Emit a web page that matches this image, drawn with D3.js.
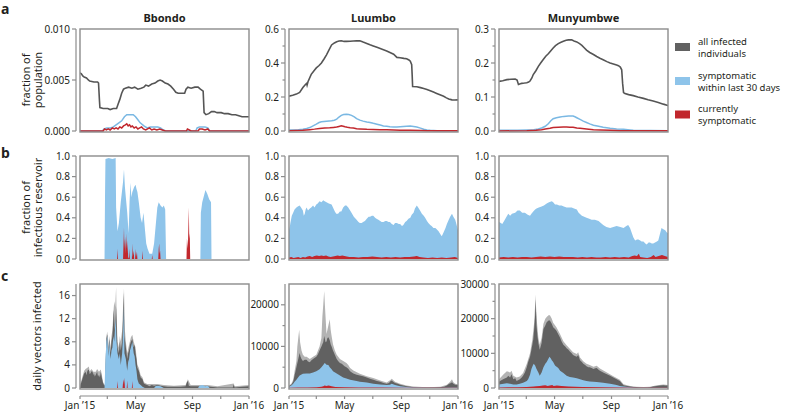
<!DOCTYPE html>
<html><head><meta charset="utf-8">
<script src="https://cdn.jsdelivr.net/npm/d3@7"></script>
<style>body{margin:0;background:#fff} svg text{font-family:"Noto Sans",sans-serif;fill:#231f20}</style>
</head><body><svg id="chart" width="785" height="412"></svg>
<script>
// ---------- DATA ([day of 2015, value]) ----------
const sites = ["Bbondo", "Luumbo", "Munyumbwe"];
const legendLabels = [["all infected","individuals"],["symptomatic","within last 30 days"],["currently","symptomatic"]];
const rowTitles = [["fraction of","population"],["fraction of","infectious reservoir"],["daily vectors infected"]];
const panelLetters = ["a","b","c"];
const xTickMonths = [0,2,4,6,8,10,12];
const xTickLabels = ["Jan \u201915","","May","","Sep","","Jan \u201916"];

// Row a: fraction of population
const bbondoInfected = [[0,0.0057],[3,0.0056],[6,0.0054],[9,0.0053],[14,0.0052],[18,0.005],[21,0.0049],[30,0.0048],[38,0.0048],[40,0.0047],[42,0.003],[43,0.0023],[50,0.0022],[60,0.0022],[65,0.0021],[72,0.0022],[79,0.0022],[82,0.0026],[86,0.0031],[90,0.0037],[94,0.0041],[98,0.0042],[105,0.0043],[112,0.0042],[118,0.0043],[125,0.0041],[132,0.0042],[138,0.0043],[142,0.0045],[148,0.0044],[155,0.0046],[162,0.0047],[168,0.0049],[173,0.005],[178,0.0049],[184,0.0047],[190,0.0046],[196,0.0044],[202,0.0041],[207,0.0038],[212,0.0037],[220,0.0037],[226,0.0037],[229,0.0041],[233,0.0043],[240,0.0042],[248,0.0043],[255,0.0043],[260,0.0041],[266,0.0039],[268,0.0018],[272,0.0016],[278,0.0017],[284,0.0019],[290,0.0019],[296,0.0018],[305,0.0018],[312,0.0017],[320,0.0017],[328,0.0016],[336,0.0016],[343,0.0015],[350,0.0014],[358,0.0014],[365,0.0014]];
const bbondoSymp30 = [[0,0],[48,0],[52,0.0002],[58,0.0003],[66,0.0003],[72,0.0004],[78,0.0006],[84,0.0008],[90,0.001],[96,0.0014],[101,0.0016],[108,0.0016],[115,0.0016],[120,0.0014],[125,0.0011],[130,0.0008],[138,0.0005],[145,0.0003],[152,0.0004],[160,0.0004],[168,0.0004],[174,0.0003],[180,0.0001],[186,0],[250,0],[253,0.0003],[258,0.0004],[270,0.0004],[276,0.0003],[280,0],[365,0]];
const bbondoCurrent = [[0,0],[50,0],[53,0.0002],[57,0.0001],[61,0.0002],[65,0.0001],[70,0.0003],[74,0.0002],[78,0.0003],[82,0.0002],[86,0.0004],[90,0.0003],[94,0.0005],[98,0.0006],[101,0.0007],[104,0.0005],[107,0.0006],[110,0.0004],[113,0.0005],[117,0.0003],[121,0.0004],[125,0.0002],[129,0.0003],[133,0.0004],[137,0.0002],[142,0.0001],[146,0.0002],[150,0.0003],[155,0.0001],[160,0.0002],[166,0.0001],[172,0.0002],[178,0.0001],[184,0],[230,0],[232,0.0002],[236,0.0001],[240,0],[255,0],[258,0.0002],[264,0.0002],[270,0.0001],[276,0.0002],[280,0],[365,0]];

const luumboInfected = [[0,0.205],[8,0.21],[16,0.217],[23,0.227],[30,0.256],[36,0.275],[38,0.28],[39,0.27],[41,0.29],[48,0.333],[54,0.355],[59,0.371],[65,0.385],[70,0.4],[76,0.425],[81,0.448],[87,0.48],[92,0.506],[98,0.518],[103,0.525],[108,0.529],[113,0.531],[119,0.527],[124,0.527],[132,0.528],[139,0.529],[146,0.53],[153,0.531],[160,0.523],[168,0.515],[175,0.507],[182,0.5],[190,0.492],[197,0.485],[204,0.478],[211,0.471],[218,0.462],[226,0.452],[233,0.433],[240,0.431],[248,0.427],[254,0.425],[259,0.418],[262,0.41],[265,0.39],[266,0.33],[267,0.262],[276,0.26],[284,0.255],[291,0.25],[298,0.244],[305,0.237],[312,0.229],[319,0.221],[326,0.213],[334,0.204],[340,0.195],[345,0.188],[352,0.183],[358,0.182],[365,0.183]];
const luumboSymp30 = [[0,0.006],[20,0.008],[30,0.01],[38,0.015],[45,0.02],[52,0.03],[59,0.04],[65,0.05],[70,0.054],[81,0.058],[92,0.06],[98,0.063],[103,0.07],[108,0.082],[113,0.092],[118,0.097],[124,0.098],[129,0.097],[135,0.092],[141,0.083],[146,0.073],[153,0.064],[160,0.058],[168,0.053],[175,0.05],[182,0.045],[190,0.04],[197,0.035],[204,0.03],[211,0.028],[218,0.025],[226,0.024],[233,0.023],[240,0.025],[247,0.027],[254,0.028],[262,0.029],[269,0.027],[276,0.023],[284,0.017],[291,0.01],[298,0.006],[305,0.004],[320,0.002],[365,0.002]];
const luumboCurrent = [[0,0.002],[30,0.004],[45,0.008],[55,0.011],[66,0.015],[77,0.017],[88,0.019],[96,0.021],[103,0.023],[108,0.027],[113,0.031],[117,0.028],[121,0.025],[126,0.022],[132,0.019],[139,0.017],[146,0.013],[153,0.012],[168,0.01],[182,0.009],[197,0.008],[211,0.007],[226,0.006],[240,0.005],[262,0.004],[284,0.003],[298,0.002],[365,0.002]];

const munyumbweInfected = [[0,0.146],[8,0.148],[17,0.151],[26,0.152],[35,0.153],[39,0.15],[42,0.137],[46,0.139],[49,0.14],[55,0.141],[60,0.142],[64,0.144],[67,0.147],[71,0.156],[74,0.166],[80,0.178],[85,0.19],[90,0.2],[96,0.211],[101,0.22],[107,0.228],[112,0.236],[117,0.244],[122,0.251],[128,0.257],[134,0.261],[139,0.264],[145,0.267],[150,0.268],[157,0.268],[162,0.265],[168,0.262],[174,0.257],[179,0.252],[184,0.245],[189,0.238],[196,0.231],[204,0.225],[211,0.219],[218,0.214],[226,0.209],[233,0.204],[240,0.2],[247,0.197],[254,0.194],[258,0.192],[262,0.188],[265,0.18],[267,0.14],[269,0.113],[272,0.11],[280,0.107],[290,0.104],[300,0.1],[312,0.096],[322,0.092],[333,0.088],[344,0.084],[355,0.079],[365,0.075]];
const munyumbweSymp30 = [[0,0.002],[40,0.002],[60,0.003],[75,0.004],[85,0.006],[92,0.009],[100,0.014],[107,0.022],[112,0.03],[117,0.036],[124,0.039],[132,0.041],[140,0.043],[150,0.044],[160,0.044],[164,0.042],[168,0.039],[175,0.034],[182,0.029],[189,0.025],[196,0.021],[204,0.017],[215,0.014],[225,0.011],[240,0.008],[254,0.006],[269,0.005],[283,0.003],[290,0.002],[365,0.001]];
const munyumbweCurrent = [[0,0],[60,0.001],[80,0.002],[92,0.004],[100,0.006],[110,0.008],[117,0.01],[128,0.011],[139,0.012],[146,0.012],[153,0.011],[160,0.011],[168,0.009],[175,0.008],[189,0.006],[204,0.004],[218,0.003],[240,0.002],[262,0.001],[290,0.0005],[365,0.0005]];

// Row b: fraction of infectious reservoir
const bbondoReservoirSymp30 = [[0,0],[53,0],[54,0.6],[55,0.97],[62,0.98],[70,0.97],[77,0.98],[78,0.5],[81,0.27],[84,0.35],[88,0.55],[93,0.75],[95,0.87],[97,0.7],[99,0.6],[102,0.45],[105,0.25],[107,0.55],[109,0.74],[111,0.6],[113,0.65],[117,0.7],[120,0.72],[122,0.68],[124,0.65],[127,0.55],[131,0.4],[134,0.35],[137,0.45],[140,0.3],[143,0.15],[146,0.1],[150,0.05],[156,0.05],[160,0.15],[163,0.3],[167,0.5],[170,0.55],[174,0.52],[178,0.5],[181,0.52],[184,0.48],[186,0],[260,0],[261,0.45],[264,0.55],[268,0.62],[271,0.67],[275,0.63],[279,0.58],[283,0.55],[284,0],[365,0]];
const bbondoReservoirCurrent = [[0,0],[80,0],[81,0.1],[82,0],[93,0],[94,0.15],[95,0.3],[96,0.1],[97,0.2],[98,0.05],[99,0.22],[100,0.1],[101,0.25],[102,0.05],[103,0.18],[104,0.02],[106,0],[107,0.1],[108,0],[112,0],[113,0.15],[114,0.02],[116,0.08],[117,0],[119,0],[120,0.1],[121,0.02],[123,0.07],[124,0],[134,0],[135,0.08],[136,0],[155,0],[156,0.04],[157,0],[169,0],[170,0.1],[171,0.15],[172,0.05],[173,0.08],[174,0],[230,0],[231,0.2],[233,0.1],[235,0.5],[236,0.2],[237,0.25],[238,0],[365,0]];
const luumboReservoirSymp30 = [[0,0.28],[2,0.32],[3,0.35],[6,0.42],[9,0.45],[12,0.48],[16,0.5],[19,0.51],[23,0.52],[26,0.5],[30,0.47],[32,0.42],[34,0.44],[36,0.48],[38,0.5],[41,0.47],[45,0.49],[48,0.5],[52,0.52],[55,0.5],[59,0.53],[62,0.54],[66,0.56],[70,0.55],[74,0.57],[77,0.56],[81,0.55],[86,0.54],[92,0.53],[95,0.5],[99,0.46],[102,0.44],[106,0.44],[110,0.46],[113,0.46],[117,0.5],[121,0.52],[124,0.52],[128,0.5],[132,0.47],[135,0.45],[140,0.41],[146,0.38],[150,0.36],[153,0.35],[157,0.35],[160,0.36],[164,0.37],[168,0.39],[172,0.41],[175,0.41],[179,0.42],[182,0.42],[186,0.4],[189,0.39],[193,0.38],[197,0.37],[200,0.36],[204,0.36],[208,0.37],[211,0.37],[215,0.36],[218,0.36],[222,0.34],[226,0.33],[229,0.35],[233,0.35],[237,0.34],[240,0.34],[244,0.32],[247,0.33],[251,0.36],[254,0.37],[258,0.39],[262,0.4],[265,0.43],[269,0.45],[272,0.49],[276,0.52],[279,0.5],[283,0.47],[287,0.44],[291,0.42],[294,0.4],[298,0.37],[301,0.35],[305,0.33],[308,0.32],[312,0.3],[316,0.3],[319,0.29],[323,0.27],[327,0.24],[330,0.22],[334,0.26],[338,0.3],[341,0.34],[345,0.38],[348,0.41],[352,0.44],[355,0.41],[359,0.38],[362,0.33],[365,0.28]];
const luumboReservoirCurrent = [[0,0.015],[5,0.02],[10,0.01],[15,0.015],[20,0.02],[25,0.01],[30,0.02],[35,0.015],[40,0.025],[45,0.03],[50,0.02],[55,0.03],[60,0.035],[65,0.03],[70,0.035],[75,0.03],[80,0.035],[85,0.025],[90,0.02],[95,0.025],[100,0.03],[105,0.035],[110,0.03],[115,0.035],[120,0.03],[125,0.025],[130,0.02],[140,0.02],[150,0.015],[160,0.02],[170,0.02],[180,0.025],[190,0.02],[200,0.015],[210,0.02],[220,0.015],[230,0.02],[240,0.015],[250,0.02],[260,0.02],[270,0.025],[276,0.03],[282,0.02],[290,0.015],[300,0.01],[310,0.015],[320,0.01],[330,0.015],[340,0.01],[350,0.015],[358,0.02],[365,0.01]];
const munyumbweReservoirSymp30 = [[0,0.36],[4,0.35],[7,0.34],[11,0.37],[15,0.4],[20,0.44],[24,0.42],[28,0.44],[35,0.45],[40,0.47],[45,0.47],[50,0.45],[56,0.45],[62,0.43],[67,0.42],[70,0.44],[74,0.46],[78,0.48],[81,0.49],[86,0.5],[92,0.51],[97,0.52],[103,0.54],[108,0.55],[114,0.56],[117,0.55],[121,0.53],[125,0.53],[130,0.52],[135,0.52],[140,0.51],[146,0.5],[151,0.5],[157,0.5],[162,0.49],[168,0.48],[172,0.45],[179,0.42],[184,0.41],[189,0.4],[195,0.39],[200,0.38],[207,0.38],[215,0.37],[220,0.35],[225,0.33],[232,0.31],[240,0.3],[247,0.31],[254,0.32],[262,0.31],[269,0.3],[275,0.32],[279,0.33],[283,0.3],[287,0.25],[290,0.21],[294,0.18],[298,0.19],[301,0.19],[305,0.18],[308,0.17],[312,0.17],[316,0.15],[319,0.14],[323,0.16],[326,0.16],[330,0.15],[333,0.15],[337,0.16],[341,0.17],[344,0.18],[348,0.25],[351,0.3],[355,0.29],[359,0.28],[362,0.26],[365,0.25]];
const munyumbweReservoirCurrent = [[0,0.015],[10,0.02],[20,0.015],[30,0.02],[40,0.015],[50,0.02],[60,0.02],[70,0.015],[80,0.02],[90,0.025],[100,0.02],[110,0.025],[120,0.02],[130,0.025],[140,0.02],[150,0.02],[160,0.02],[170,0.015],[180,0.02],[190,0.015],[200,0.02],[210,0.015],[220,0.015],[230,0.02],[240,0.015],[250,0.02],[260,0.015],[270,0.02],[280,0.015],[288,0.03],[293,0.035],[298,0.03],[302,0.05],[305,0.02],[312,0.015],[320,0.01],[328,0.02],[334,0.04],[338,0.02],[345,0.03],[352,0.04],[358,0.03],[365,0.02]];

// Row c: daily vectors infected (upper band, all infected, symptomatic 30d, current)
const bbondoVectorsUpper = [[0,0],[1,0.7],[5,1.9],[9,3.0],[12,3.3],[16,3.5],[19,3.7],[21,2.9],[25,3.3],[29,2.8],[34,2.8],[37,3.3],[41,2.8],[45,3.2],[50,1.0],[54,0.5],[57,9.0],[59,9.8],[61,7],[63,9],[66,7],[68,9],[70,10],[72,13],[74,15],[76,14],[78,17.5],[79,13],[81,8],[84,7],[86,9],[88,8],[91,10],[93,14],[95,17.2],[97,10],[99,8],[102,6],[106,7.5],[110,8.8],[113,9.2],[116,8],[120,7],[124,4],[127,3.5],[131,2.2],[135,1.8],[138,1.0],[145,0.7],[155,0.7],[167,0.7],[181,0.5],[203,0.4],[228,0.5],[233,1.5],[239,0.5],[275,0.5],[297,0.3],[332,0.8],[334,0.3],[365,0.5]];
const bbondoVectorsAll = [[0,0],[1,0.5],[5,1.5],[9,2.5],[12,2.8],[14,2.2],[16,3.0],[19,3.2],[21,2.4],[23,2.6],[25,2.9],[27,2.8],[29,2.2],[30,2.6],[32,2.0],[34,2.3],[37,2.8],[39,2.0],[41,2.3],[43,1.8],[45,2.8],[47,1.8],[50,0.8],[52,0.5],[54,0.4],[57,8.5],[59,9.3],[61,6],[63,8.5],[66,6],[68,8],[70,9],[72,12],[73,13.5],[75,10],[77,12],[78,14],[80,9],[81,7],[84,6],[86,8],[88,6.5],[91,8],[93,12],[94,16.5],[96,9],[99,7],[102,5],[104,6],[106,6.5],[108,7.5],[110,8],[113,8.5],[116,7],[118,7.5],[120,6],[122,5],[124,3.5],[127,3],[131,1.8],[135,1.5],[138,0.8],[142,0.6],[145,0.5],[150,0.3],[155,0.5],[160,0.4],[167,0.5],[174,0.4],[181,0.3],[189,0.2],[203,0.2],[217,0.2],[228,0.3],[231,1.0],[233,1.2],[235,0.4],[239,0.3],[261,0.3],[275,0.3],[282,0.2],[297,0.1],[330,0.1],[332,0.6],[334,0.1],[350,0.2],[365,0.3]];
const bbondoVectorsSymp30 = [[0,0],[53,0],[55,5],[57,8],[59,9],[61,5.5],[63,8],[66,5],[68,6.5],[70,7],[72,9],[74,8],[76,11],[77,12],[79,8],[81,6],[84,5],[86,6],[88,4],[91,6],[93,9],[95,14],[96,6],[99,5],[102,3],[104,4.5],[106,5],[108,6.5],[110,7],[113,8],[116,6],[118,5.5],[120,4],[122,3],[124,1.5],[127,0.8],[131,0.5],[135,0.2],[140,0],[160,0],[163,0.3],[167,0.4],[174,0.3],[181,0],[255,0],[258,0.4],[265,0.5],[270,0.3],[276,0.4],[280,0],[365,0]];
const bbondoVectorsCurrent = [[0,0],[80,0],[81,1.2],[82,0],[92,0],[93,1.0],[94,1.5],[95,0.6],[96,1.8],[97,0],[101,0],[102,1.3],[103,0],[112,0],[113,1.2],[114,0],[365,0]];

const luumboVectorsUpper = [[0,600],[5,1000],[9,2000],[12,4000],[16,6500],[18,10000],[20,12000],[22,14000],[24,11000],[27,9000],[30,8000],[34,7500],[38,7500],[45,7000],[52,7500],[59,8000],[66,10000],[70,12000],[72,17000],[74,20000],[76,23300],[78,19000],[79,17000],[81,13000],[83,14000],[85,15000],[88,16500],[90,14000],[92,12500],[95,10500],[99,9000],[103,8000],[110,7000],[117,6500],[124,6000],[128,5500],[132,4800],[139,4200],[153,3400],[168,2800],[182,2400],[197,1800],[211,1300],[219,1900],[222,2200],[229,1500],[240,1000],[254,600],[269,350],[298,200],[327,300],[341,800],[348,1500],[352,2100],[355,1400],[359,1000],[365,900]];
const luumboVectorsAll = [[0,500],[5,800],[9,1500],[12,3000],[16,5000],[20,7000],[23,8400],[25,7500],[27,7000],[30,6500],[34,6800],[38,6800],[41,6400],[45,6200],[48,6600],[52,7000],[55,7200],[59,7500],[62,8000],[66,9000],[70,10000],[72,10500],[74,11000],[76,12500],[77,12000],[79,11000],[81,11200],[83,12000],[85,12200],[88,11500],[90,10500],[92,10000],[95,9000],[99,8000],[103,7000],[106,6500],[110,6000],[114,5800],[117,5500],[120,5200],[124,5000],[128,4600],[132,4000],[135,3800],[139,3500],[146,3200],[153,3000],[160,2800],[168,2500],[175,2200],[182,2000],[190,1700],[197,1500],[204,1200],[211,1000],[216,1200],[219,1600],[222,1800],[225,1500],[229,1200],[235,1000],[240,800],[247,600],[254,400],[262,300],[269,200],[280,150],[298,100],[315,100],[327,200],[335,300],[341,600],[346,1000],[350,1200],[352,1400],[355,1000],[359,800],[365,700]];
const luumboVectorsSymp30 = [[0,300],[5,600],[9,1000],[12,1500],[16,2000],[20,2600],[23,3000],[30,3400],[38,3500],[45,3500],[52,3700],[59,4000],[66,4500],[70,5000],[74,5500],[77,6000],[79,5800],[81,5600],[85,5500],[88,5000],[92,4500],[95,4000],[103,3500],[110,3000],[117,2500],[124,2300],[132,2000],[146,1700],[153,1500],[168,1300],[182,1000],[197,850],[211,700],[218,800],[222,1000],[229,700],[240,400],[254,250],[269,150],[298,80],[327,80],[350,150],[365,100]];
const luumboVectorsCurrent = [[0,50],[20,100],[40,150],[60,200],[70,300],[74,450],[77,600],[81,500],[85,600],[88,550],[92,400],[100,250],[120,200],[150,150],[200,100],[250,80],[300,50],[365,50]];

const munyumbweVectorsUpper = [[0,2500],[10,4000],[17,4800],[24,4500],[27,5000],[31,3500],[38,3000],[45,3300],[52,4300],[60,7000],[67,10000],[72,14000],[76,19000],[78,24000],[79,27000],[80,23500],[82,19000],[85,14500],[88,12500],[92,14500],[96,18500],[100,20000],[103,20500],[107,21000],[110,21000],[114,20000],[117,18800],[124,17500],[132,15500],[139,13500],[146,12300],[153,11300],[160,10300],[168,9800],[171,10300],[175,8800],[182,7700],[189,7000],[196,6600],[204,6100],[211,6400],[218,5600],[233,4500],[247,3400],[261,2400],[269,1100],[283,600],[297,350],[312,300],[326,350],[341,800],[355,1000],[365,900]];
const munyumbweVectorsAll = [[0,1800],[5,2200],[10,2600],[17,3000],[20,3500],[24,3000],[27,4000],[31,2500],[35,2800],[38,2000],[42,2300],[45,2500],[49,3000],[52,3500],[56,4500],[60,6000],[63,7500],[67,9000],[70,11000],[72,12500],[74,14000],[76,17000],[78,21000],[79,25500],[80,22000],[81,18000],[83,15000],[85,13000],[88,11000],[90,12000],[92,13000],[94,15000],[96,17000],[100,18000],[103,19000],[107,19500],[110,19500],[112,19000],[114,18500],[117,17500],[121,17000],[124,16500],[128,15500],[132,14500],[135,13500],[139,12500],[143,12000],[146,11500],[150,11000],[153,10500],[157,10000],[160,9500],[164,9200],[168,9000],[171,9500],[173,8800],[175,8000],[179,7500],[182,7000],[186,6600],[189,6300],[193,6000],[196,6000],[200,5800],[204,5500],[208,5700],[211,5800],[215,5300],[218,5000],[225,4500],[233,4000],[240,3500],[247,3000],[254,2500],[261,2000],[265,1400],[269,800],[276,600],[283,400],[290,300],[297,200],[305,180],[312,150],[320,180],[326,200],[333,400],[341,600],[348,700],[355,800],[360,750],[365,700]];
const munyumbweVectorsSymp30 = [[0,1000],[10,1200],[17,1400],[24,1200],[31,1000],[38,1000],[45,1200],[52,1500],[60,2000],[63,2500],[67,3800],[70,5500],[73,6500],[75,7000],[78,6500],[81,5500],[85,4500],[88,3500],[92,4500],[96,6000],[100,7000],[103,7500],[107,8500],[109,9000],[112,8500],[114,8000],[117,7500],[121,6500],[128,5800],[132,5000],[139,4300],[146,3500],[153,3200],[160,3000],[168,2800],[175,2500],[182,2200],[189,2000],[196,1900],[204,1800],[211,1700],[225,1500],[240,1200],[254,900],[261,600],[269,400],[283,200],[297,100],[312,80],[365,50]];
const munyumbweVectorsCurrent = [[0,150],[20,200],[40,250],[60,300],[75,400],[80,500],[88,600],[95,700],[100,800],[105,600],[110,700],[115,900],[118,600],[125,700],[135,600],[150,400],[180,300],[220,200],[260,150],[300,100],[365,100]];

// Axis ticks
const yMaxRowA = [0.01, 0.6, 0.3];
const yMajorRowA = [[0,0.005,0.01],[0,0.2,0.4,0.6],[0,0.1,0.2,0.3]];
const yMinorRowA = [[],[0.1,0.3,0.5],[0.05,0.15,0.25]];
const yFmtRowA = [".3f", ".1f", ".1f"];
const yMaxRowB = [1, 1, 1];
const yMajorRowB = [[0,0.2,0.4,0.6,0.8,1],[0,0.2,0.4,0.6,0.8,1],[0,0.2,0.4,0.6,0.8,1]];
const yMaxRowC = [18, 25000, 30000];
const yMajorRowC = [[0,4,8,12,16],[0,10000,20000],[0,10000,20000,30000]];
const yMinorRowC = [[],[5000,15000],[5000,15000,25000]];

// ---------- LAYOUT / STYLE ----------
const colX = [80, 289, 499], colW = 169;
const rowY = [[29,131],[156,259],[284,388]];   // [top, bottom]
const C = {gray:"#616161", grayLine:"#555555", lightGray:"#b3b3b3", blue:"#8ec4ea", blueLine:"#7ab8e3", red:"#c1272d", frame:"#8c8c8c"};

const svg = d3.select("#chart");
const t0 = new Date(2015,0,1), t1 = new Date(2016,0,1);
const dt = d => new Date(2015,0,1+d);

const rowA = [[bbondoInfected,bbondoSymp30,bbondoCurrent],[luumboInfected,luumboSymp30,luumboCurrent],[munyumbweInfected,munyumbweSymp30,munyumbweCurrent]];
const rowB = [[bbondoReservoirSymp30,bbondoReservoirCurrent],[luumboReservoirSymp30,luumboReservoirCurrent],[munyumbweReservoirSymp30,munyumbweReservoirCurrent]];
const rowC = [[bbondoVectorsUpper,bbondoVectorsAll,bbondoVectorsSymp30,bbondoVectorsCurrent],[luumboVectorsUpper,luumboVectorsAll,luumboVectorsSymp30,luumboVectorsCurrent],[munyumbweVectorsUpper,munyumbweVectorsAll,munyumbweVectorsSymp30,munyumbweVectorsCurrent]];

const defs = svg.append("defs");

function yAxis(g, y, x0, major, minor, fmt) {
  const ax = x0 - 4;
  const [r0, r1] = y.range();
  g.append("line").attr("x1",ax).attr("x2",ax).attr("y1",r0).attr("y2",r1).attr("stroke",C.frame).attr("stroke-width",1.2);
  major.forEach(v => {
    g.append("line").attr("x1",ax-4).attr("x2",ax).attr("y1",y(v)).attr("y2",y(v)).attr("stroke",C.frame).attr("stroke-width",1.2);
    g.append("text").attr("x",ax-6).attr("y",y(v)).attr("dy","0.35em").attr("text-anchor","end").attr("font-size",10).text(fmt(v));
  });
  minor.forEach(v => {
    g.append("line").attr("x1",ax-2.5).attr("x2",ax).attr("y1",y(v)).attr("y2",y(v)).attr("stroke",C.frame).attr("stroke-width",1.2);
  });
}

for (let c = 0; c < 3; c++) {
  const x = d3.scaleTime().domain([t0,t1]).range([colX[c], colX[c]+colW]);
  for (let r = 0; r < 3; r++) {
    const [yt, yb] = rowY[r];
    const max = [yMaxRowA, yMaxRowB, yMaxRowC][r][c];
    const y = d3.scaleLinear().domain([0,max]).range([yb,yt]);
    const id = `clip${r}${c}`;
    defs.append("clipPath").attr("id",id).append("rect").attr("x",colX[c]).attr("y",yt).attr("width",colW).attr("height",yb-yt+1);
    const g = svg.append("g");
    const pg = g.append("g").attr("clip-path",`url(#${id})`);
    const line = d3.line().x(d=>x(dt(d[0]))).y(d=>y(d[1]));
    const area = d3.area().x(d=>x(dt(d[0]))).y0(y(0)).y1(d=>y(d[1]));
    if (r === 0) {
      const [inf, s30, cur] = rowA[c];
      pg.append("path").attr("d",line(s30)).attr("fill","none").attr("stroke",C.blueLine).attr("stroke-width",1.5);
      pg.append("path").attr("d",line(cur)).attr("fill","none").attr("stroke",C.red).attr("stroke-width",1.5);
      pg.append("path").attr("d",line(inf)).attr("fill","none").attr("stroke",C.grayLine).attr("stroke-width",1.6);
      yAxis(g, y, colX[c], yMajorRowA[c], yMinorRowA[c], d3.format(yFmtRowA[c]));
    } else if (r === 1) {
      const [s30, cur] = rowB[c];
      pg.append("path").attr("d",area(s30)).attr("fill",C.blue);
      pg.append("path").attr("d",area(cur)).attr("fill",C.red);
      yAxis(g, y, colX[c], yMajorRowB[c], [], d3.format(".1f"));
    } else {
      const [up, all, s30, cur] = rowC[c];
      pg.append("path").attr("d",area(up)).attr("fill",C.lightGray);
      pg.append("path").attr("d",area(all)).attr("fill",C.gray);
      pg.append("path").attr("d",area(s30)).attr("fill",C.blue);
      pg.append("path").attr("d",area(cur)).attr("fill",C.red);
      yAxis(g, y, colX[c], yMajorRowC[c], yMinorRowC[c], d3.format("d"));
      const xa = 396;
      g.append("line").attr("x1",colX[c]).attr("x2",colX[c]+colW).attr("y1",xa).attr("y2",xa).attr("stroke",C.frame).attr("stroke-width",1.2);
      xTickMonths.forEach((m,i) => {
        const px = x(new Date(2015,m,1));
        g.append("line").attr("x1",px).attr("x2",px).attr("y1",xa).attr("y2",xa+3).attr("stroke",C.frame).attr("stroke-width",1.2);
        if (xTickLabels[i]) g.append("text").attr("x",px).attr("y",xa+13).attr("text-anchor","middle").attr("font-size",10).text(xTickLabels[i]);
      });
    }
    g.append("rect").attr("x",colX[c]).attr("y",yt).attr("width",colW).attr("height",yb-yt+1)
      .attr("fill","none").attr("stroke",C.frame).attr("stroke-width",1.4);
  }
  svg.append("text").attr("x",colX[c]+colW/2).attr("y",22).attr("text-anchor","middle")
    .attr("font-size",11).attr("font-weight","bold").text(sites[c]);
}

// panel letters
[14,158,281].forEach((yy,i) => svg.append("text").attr("x",1).attr("y",yy).attr("font-size",14).attr("font-weight","bold").text(panelLetters[i]));

// row titles
rowTitles.forEach((lines, r) => {
  const cy = (rowY[r][0]+rowY[r][1])/2;
  const xs = lines.length === 2 ? [30, 42] : [41];
  lines.forEach((t,i) => {
    svg.append("text").attr("transform",`translate(${xs[i]},${cy}) rotate(-90)`).attr("text-anchor","middle")
      .attr("font-size",11).text(t);
  });
});

// legend
const legColors = [C.gray, C.blue, C.red];
const legY = [47, 81, 114.5];
legendLabels.forEach((lines,i) => {
  svg.append("rect").attr("x",675).attr("y",legY[i]-4).attr("width",15).attr("height",8).attr("fill",legColors[i]);
  lines.forEach((s,j) => svg.append("text").attr("x",698).attr("y",legY[i]-2.5 + j*12).attr("font-size",9.5).text(s));
});
</script></body></html>
